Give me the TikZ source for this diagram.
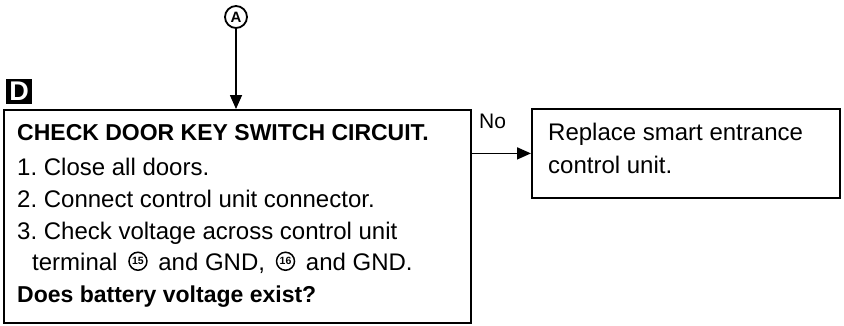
\documentclass[tikz,border=0pt]{standalone}
\usepackage{fontspec}
\setmainfont{Liberation Sans}
\usetikzlibrary{arrows.meta}
\frenchspacing
\newcommand\circnum[1]{\tikz[baseline={([yshift=1pt]cn.south)}]\node[circle,draw,line width=1.5pt,inner sep=0pt,minimum size=18pt,font=\fontsize{10.5}{10.5}\selectfont\bfseries] (cn) {#1};}
\begin{document}
\begin{tikzpicture}[x=1pt,y=-1pt,
  box/.style={draw,line width=1.8pt,inner sep=0pt,anchor=north west},
  txt/.style={anchor=base west,inner sep=0pt,font=\fontsize{24}{28}\selectfont},
  bold/.style={txt,font=\fontsize{23}{28}\selectfont\bfseries},
  conn/.style={line width=1.6pt,-{Triangle[length=14pt,width=12pt]}}]
\useasboundingbox (0,0) rectangle (844,325);
% boxes
\node[box,minimum width=467pt,minimum height=213pt] (check) at (3,109) {};
\node[box,minimum width=308pt,minimum height=89pt] (repl) at (531,108) {};
% badge
\node[fill=black,text=white,inner sep=0pt,minimum width=26pt,minimum height=25pt,anchor=north west,font=\fontsize{27}{27}\selectfont\bfseries] (badge) at (6,79) {D};
% connector A
\node[circle,draw,line width=1.8pt,inner sep=0pt,minimum size=22pt,font=\fontsize{15}{15}\selectfont\bfseries] (A) at (236,17) {A};
\draw[conn] (A) -- (A |- check.north);
% No connector
\draw[conn] (check.east |- repl.west) -- (repl.west);
\node[anchor=base west,inner sep=0pt,font=\fontsize{21}{21}\selectfont] (no) at (479,128) {No};
% text of check box
\node[bold] (l1) at (17,140) {CHECK DOOR KEY SWITCH CIRCUIT.};
\node[txt] (l2) at (17,175) {1. Close all doors.};
\node[txt] (l3) at (17,207) {2. Connect control unit connector.};
\node[txt] (l4) at (17,239) {3. Check voltage across control unit};
\node[txt] (l5) at (32,270) {terminal\ \,\circnum{15}\,\ and GND,\ \,\circnum{16}\,\ and GND.};
\node[bold] (l6) at (17,302) {Does battery voltage exist?};
% text of replace box
\node[txt] (r1) at (548,140) {Replace smart entrance};
\node[txt] (r2) at (548,173) {control unit.};
\end{tikzpicture}
\end{document}
